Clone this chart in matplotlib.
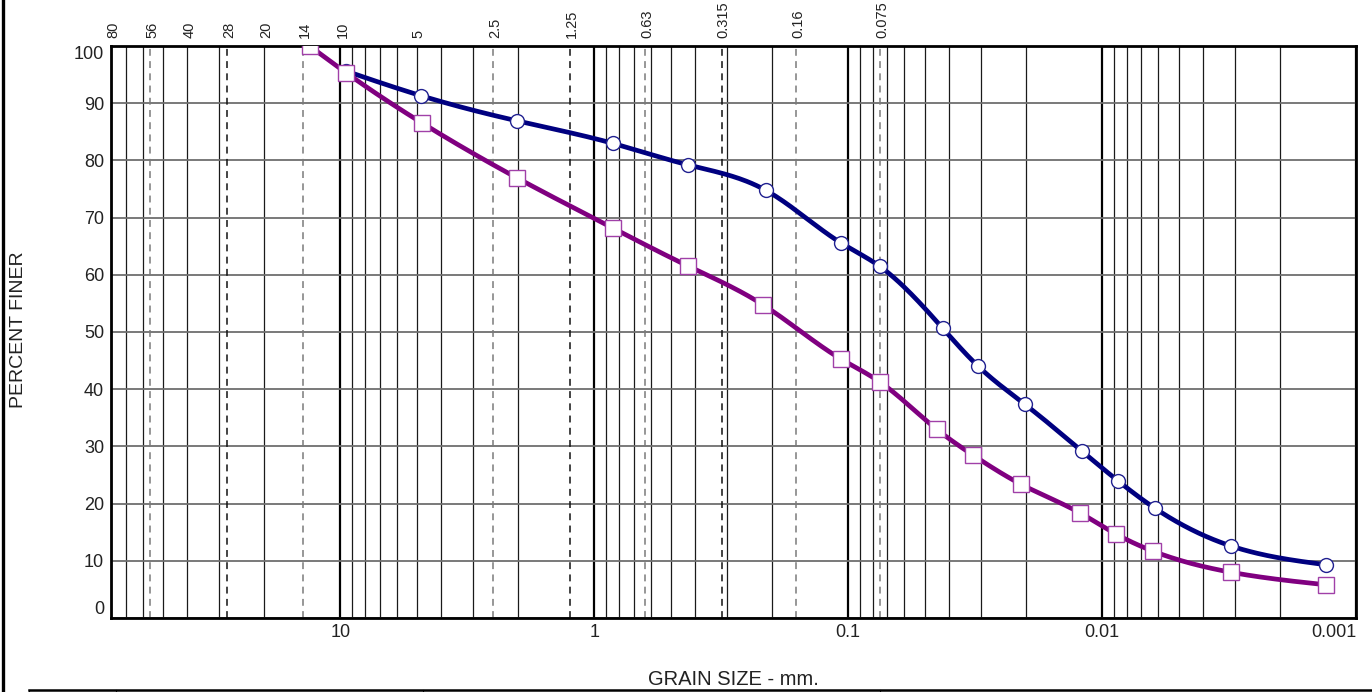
import numpy as np
import matplotlib
matplotlib.use("Agg")
import matplotlib.pyplot as plt
from matplotlib.lines import Line2D
from matplotlib.ticker import LogLocator, FixedLocator, NullFormatter
from matplotlib import font_manager as fm

# ---------------- data ----------------
sieve_labels = ['80', '56', '40', '28', '20', '14', '10', '5', '2.5', '1.25',
                '0.63', '0.315', '0.16', '0.075']
sieve_sizes = [80, 56, 40, 28, 20, 14, 10, 5, 2.5, 1.25, 0.63, 0.315, 0.16, 0.075]
dashed_sieves = [56, 28, 14, 2.5, 1.25, 0.63, 0.315, 0.16, 0.075]
dark_dashed = [28, 1.25, 0.315]
xtick_values = [10, 1, 0.1, 0.01, 0.001]
xtick_labels = ['10', '1', '0.1', '0.01', '0.001']
ytick_values = [0, 10, 20, 30, 40, 50, 60, 70, 80, 90, 100]

sample_a_size = [9.47, 4.80, 2.007, 0.847, 0.4256, 0.2116, 0.107, 0.0752,
                 0.0425, 0.0309, 0.0202, 0.01202, 0.00867, 0.0062, 0.00311, 0.00131]
sample_a_finer = [95.6, 91.3, 86.9, 83.0, 79.2, 74.8, 65.6, 61.5,
                  50.7, 44.1, 37.4, 29.2, 24.0, 19.2, 12.6, 9.3]

sample_b_size = [13.2, 9.47, 4.75, 2.007, 0.847, 0.4256, 0.2155, 0.107, 0.0752,
                 0.0448, 0.0323, 0.0209, 0.01225, 0.00883, 0.00631, 0.00311, 0.00131]
sample_b_finer = [100, 95.3, 86.5, 76.9, 68.2, 61.5, 54.7, 45.3, 41.3,
                  33.0, 28.5, 23.4, 18.4, 14.7, 11.7, 8.0, 5.8]

# ---------------- fonts ----------------
names = {f.name for f in fm.fontManager.ttflist}
REG = 'Liberation Sans' if 'Liberation Sans' in names else 'DejaVu Sans'


def smooth_path(xs, ys, n=400):
    """Natural cubic spline through the points, in log10(x)."""
    u = np.log10(np.asarray(xs, float))[::-1]
    y = np.asarray(ys, float)[::-1]
    m = len(u)
    h = np.diff(u)
    A = np.zeros((m, m))
    r = np.zeros(m)
    A[0, 0] = A[-1, -1] = 1.0
    for i in range(1, m - 1):
        A[i, i - 1] = h[i - 1]
        A[i, i] = 2 * (h[i - 1] + h[i])
        A[i, i + 1] = h[i]
        r[i] = 6 * ((y[i + 1] - y[i]) / h[i] - (y[i] - y[i - 1]) / h[i - 1])
    M = np.linalg.solve(A, r)
    uu = np.linspace(u[0], u[-1], n)
    k = np.clip(np.searchsorted(u, uu) - 1, 0, m - 2)
    hk = h[k]
    a = (u[k + 1] - uu) / hk
    b = (uu - u[k]) / hk
    yy = a * y[k] + b * y[k + 1] + ((a ** 3 - a) * M[k] + (b ** 3 - b) * M[k + 1]) * hk ** 2 / 6
    return 10 ** uu, yy


W, H = 1372, 692
fig = plt.figure(figsize=(W / 100, H / 100), dpi=100)
ax = fig.add_axes([111 / W, 1 - 618 / H, (1356 - 111) / W, (618 - 46) / H])

ax.set_xscale('log')
ax.set_xlim(80, 0.001)
ax.set_ylim(0, 100)

ax.xaxis.set_major_locator(FixedLocator(xtick_values))
ax.xaxis.set_minor_locator(LogLocator(base=10, subs=np.arange(2, 10), numticks=50))
ax.xaxis.set_minor_formatter(NullFormatter())
ax.set_xticks(xtick_values)
ax.set_xticklabels(xtick_labels)
ax.set_yticks(ytick_values)
ax.set_yticklabels([str(v) for v in ytick_values])
ax.xaxis.grid(True, which='major', color='black', lw=1.6, zorder=1)
ax.xaxis.grid(True, which='minor', color='#1a1a1a', lw=0.9, zorder=1)
ax.yaxis.grid(True, which='major', color='#6e6e6e', lw=1.3, zorder=1)
ax.set_axisbelow(True)
ax.tick_params(axis='both', which='both', length=0)
ax.tick_params(axis='x', pad=4.5, labelsize=13)
ax.tick_params(axis='y', pad=5, labelsize=13)
for lab in ax.get_xticklabels() + ax.get_yticklabels():
    lab.set_fontfamily(REG)
    lab.set_color('#222222')
ax.get_xticklabels()[-1].set_ha('right')
ax.get_yticklabels()[0].set_va('bottom')
ax.get_yticklabels()[-1].set_va('top')

for sp in ax.spines.values():
    sp.set_linewidth(2.0)
    sp.set_color('black')

# sieve dashed lines
for s in dashed_sieves:
    ax.axvline(s, color='#111111' if s in dark_dashed else '#7a7a7a',
               lw=1.1, ls=(0, (4.5, 3.5)), zorder=0.9)

# sieve labels on top
for s, lab in zip(sieve_sizes, sieve_labels):
    ax.annotate(lab, xy=(s, 1), xycoords=('data', 'axes fraction'),
                xytext=(1.5, 6), textcoords='offset points', rotation=90,
                ha='center', va='bottom', fontsize=10.5, family=REG, color='#222222',
                annotation_clip=False)

# curves
navy = '#000080'
purple = '#800080'
xa, ya = smooth_path(sample_a_size, sample_a_finer)
ax.plot(xa, ya, color=navy, lw=3.4, zorder=3, solid_capstyle='round')
ax.plot(sample_a_size, sample_a_finer, ls='none', marker='o', ms=10,
        mfc='white', mec='#202090', mew=1.0, zorder=4)

xb, yb = smooth_path(sample_b_size, sample_b_finer)
ax.plot(xb, yb, color=purple, lw=3.4, zorder=5, solid_capstyle='round')
ax.plot(sample_b_size, sample_b_finer, ls='none', marker='s', ms=11.5,
        mfc='white', mec='#a040a8', mew=1.0, zorder=6)

# axis titles
fig.text(19 / W, 1 - 330 / H, 'PERCENT FINER', rotation=90, ha='center', va='center',
         fontsize=14, family=REG, color='#222222')
fig.text(733 / W, 1 - 685 / H, 'GRAIN SIZE - mm.', ha='center', va='baseline',
         fontsize=14.5, family=REG, color='#222222')

# page decorations (left border, table top)
fig.add_artist(Line2D([3 / W, 3 / W], [0, 1], transform=fig.transFigure, color='black', lw=2.4))
fig.add_artist(Line2D([29 / W, 1], [1 - 690 / H, 1 - 690 / H], transform=fig.transFigure,
                      color='black', lw=1.8))
for xp in (29, 116, 423, 880):
    fig.add_artist(Line2D([xp / W, xp / W], [0, 1 - 690 / H], transform=fig.transFigure,
                          color='black', lw=0.8))

fig.savefig('out.png', dpi=100)
